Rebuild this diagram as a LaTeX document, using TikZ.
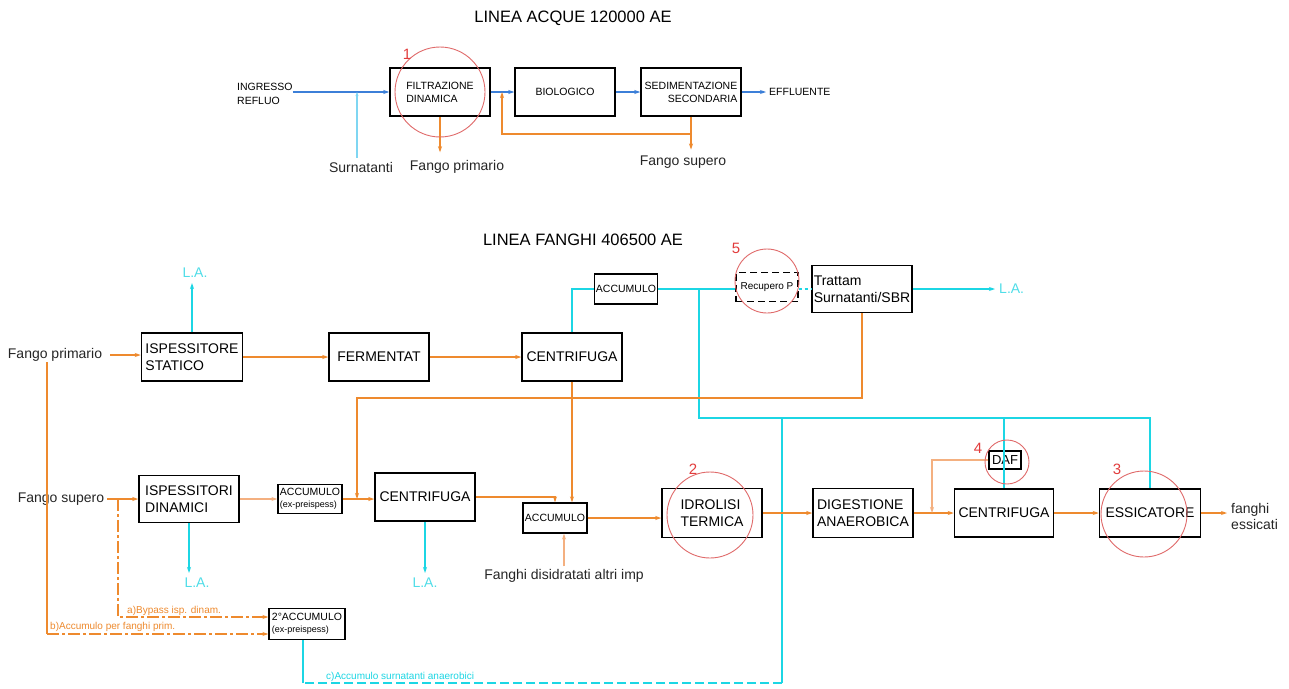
\documentclass[tikz,border=0pt]{standalone}
\usepackage{fontspec}
\setmainfont{Liberation Sans}
\usetikzlibrary{arrows.meta,calc}
\definecolor{flowblue}{HTML}{3C7FD8}
\definecolor{flowcyan}{HTML}{1CD6E4}
\definecolor{surncyan}{HTML}{7FD6F2}
\definecolor{lacyan}{HTML}{4FDDE8}
\definecolor{floworange}{HTML}{EE8A2E}
\definecolor{lightorange}{HTML}{F4B080}
\definecolor{ringred}{HTML}{E06A6A}
\definecolor{numred}{HTML}{E23C3C}
\tikzset{
  sz/.style 2 args={minimum width=#1pt,minimum height=#2pt},
  box/.style={draw=black,line width=1.5pt,rectangle,inner sep=0pt,align=center,font=\fontsize{14}{16.5}\selectfont},
  topbox/.style={box,font=\fontsize{10.5}{13}\selectfont},
  smbox/.style={box,line width=1.3pt,font=\fontsize{10.5}{12}\selectfont},
  lbl/.style={inner sep=0pt,font=\fontsize{14}{16}\selectfont,text=black!85},
  toplbl/.style={inner sep=0pt,font=\fontsize{10.5}{13.5}\selectfont},
  latext/.style={inner sep=0pt,font=\fontsize{14}{16}\selectfont,text=lacyan},
  ttl/.style={inner sep=0pt,font=\fontsize{16.5}{18}\selectfont},
  optlbl/.style={inner sep=0pt,font=\fontsize{10}{12}\selectfont},
  redring/.style={circle,draw=ringred,line width=0.9pt,inner sep=0pt},
  num/.style={inner sep=0pt,text=numred,font=\fontsize{15}{16}\selectfont},
  arr/.style={-{Stealth[length=6pt,width=4pt]}},
  bl/.style={draw=flowblue,line width=1.4pt},
  cy/.style={draw=flowcyan,line width=1.4pt},
  og/.style={draw=floworange,line width=1.4pt},
  lo/.style={draw=lightorange,line width=1.2pt},
  dd/.style={dash pattern=on 12pt off 3pt on 3pt off 3pt},
}
\begin{document}
\begin{tikzpicture}[x=1pt,y=-1pt]
\fill[white] (0,0) rectangle (1289,688);
\path[use as bounding box] (0,0) rectangle (1289,688);

% ---------------- water line ----------------
\node[ttl] (ttlA) at (573,18) {LINEA ACQUE 120000 AE};
\node[topbox,sz={100}{48},align=left] (filt) at (440,92) {FILTRAZIONE\\DINAMICA};
\node[topbox,sz={100}{48}] (bio) at (565,92) {BIOLOGICO};
\node[topbox,sz={100}{48},align=right] (sed) at (691,92) {SEDIMENTAZIONE\\SECONDARIA};
\node[toplbl,align=left,anchor=west] (ingr) at (237,94) {INGRESSO\\REFLUO};
\node[toplbl,anchor=west] (eff) at (769,92) {EFFLUENTE};
\node[lbl] (surn) at (361,167) {Surnatanti};
\node[lbl] (fp1) at (457,167) {Fango primario};
\node[lbl] (fs1) at (683,162) {Fango supero};

\coordinate (jS) at (357,92);
\coordinate (rcB) at (691,134);
\coordinate (rcT) at (502,92);
\draw[bl,arr] (ingr.east |- filt.west) -- (filt.west);
\draw[draw=surncyan,line width=1.1pt,-{Stealth[length=4pt,width=3pt]}] ([yshift=4pt]surn.north -| jS) -- (jS);
\draw[og,arr,shorten >=8pt] (filt.south) -- (filt.south |- fp1.north);
\draw[bl,arr] (filt.east) -- (bio.west);
\draw[bl,arr] (bio.east) -- (sed.west);
\draw[bl,arr,shorten >=3pt] (sed.east) -- (eff.west);
\draw[og,arr,shorten >=6pt] (sed.south) -- (sed.south |- fs1.north);
\draw[og,arr] (rcB) -| (rcT);

% ---------------- sludge line ----------------
\node[ttl] (ttlB) at (583,240) {LINEA FANGHI 406500 AE};
\node[box,sz={101}{48},align=left] (isp1) at (192,357) {ISPESSITORE\\STATICO};
\node[box,sz={100}{48}] (ferm) at (379,357) {FERMENTAT};
\node[box,sz={100}{48}] (cen1) at (572,357) {CENTRIFUGA};
\node[smbox,sz={63}{30}] (acc1) at (626,289) {ACCUMULO};
\node[smbox,sz={62}{29},dash pattern=on 7pt off 4pt,font=\fontsize{10}{12}\selectfont] (recp) at (767,287) {Recupero P};
\node[box,sz={100}{47},align=left] (trat) at (862,289) {Trattam\\Surnatanti/SBR};
\node[latext] (la1) at (195,273) {L.A.};
\node[latext,anchor=west] (la2) at (999,289) {L.A.};
\node[lbl] (fprim) at (55,355) {Fango primario};
\node[lbl] (fsup) at (61,499) {Fango supero};
\node[box,sz={100}{47},align=left] (isp2) at (189,499) {ISPESSITORI\\DINAMICI};
\node[smbox,sz={64}{29},align=left] (acc2) at (310,499) {ACCUMULO\\\fontsize{9}{10}\selectfont(ex-preispess)};
\node[box,sz={100}{48}] (cen2) at (425,497) {CENTRIFUGA};
\node[smbox,sz={64}{30}] (acc3) at (555,518) {ACCUMULO};
\node[latext] (la3) at (197,583) {L.A.};
\node[latext] (la4) at (425,583) {L.A.};
\node[lbl] (fdis) at (564,576) {Fanghi disidratati altri imp};
\node[box,sz={100}{49},align=left] (idro) at (712,513) {IDROLISI\\TERMICA};
\node[box,sz={100}{49},align=left] (dig) at (863,513) {DIGESTIONE\\ANAEROBICA};
\node[box,sz={99}{48}] (cen3) at (1004,513) {CENTRIFUGA};
\node[box,sz={32}{18},line width=1.3pt,font=\fontsize{13}{14}\selectfont] (daf) at (1005,460) {DAF};
\node[box,sz={101}{48}] (ess) at (1150,513) {ESSICATORE};
\node[lbl,align=left,anchor=west] (fess) at (1231,516) {fanghi\\essicati};
\node[smbox,sz={76}{31},align=left] (acc4) at (307,624) {2°ACCUMULO\\\fontsize{9}{10}\selectfont(ex-preispess)};
\node[optlbl,text=floworange,anchor=west] (opta) at (127,611) {a)Bypass isp. dinam.};
\node[optlbl,text=floworange,anchor=west] (optb) at (50,627) {b)Accumulo per fanghi prim.};
\node[optlbl,text=flowcyan,anchor=west] (optc) at (326,677) {c)Accumulo surnatanti anaerobici};

% junctions
\coordinate (j1) at (699,289);
\coordinate (jc) at (699,418);
\coordinate (jd) at (782,418);
\coordinate (jdb) at (782,683);
\coordinate (jcb) at (303,683);
\coordinate (jr) at (357,398);
\coordinate (m1) at (357,499);
\coordinate (ja) at (118,499);
\coordinate (jb) at (47,362);
\coordinate (bend) at ([yshift=-10pt]acc4.west);
\coordinate (bcorner) at (jb |- bend);
\coordinate (jdaf) at (932,513);

% clarified water (cyan)
\draw[cy,arr,shorten >=5pt] (isp1.north) -- (isp1.north |- la1.south);
\draw[cy] (cen1.north) |- (acc1.west);
\draw[cy] (acc1.east) -- (acc1.east -| recp.west);
\draw[cy,dashed] (recp.east |- acc1.east) -- (acc1.east -| trat.west);
\draw[cy,arr,shorten >=4pt] (trat.east) -- (la2.west);
\draw[cy] (j1) -- (jc) -| (ess.north);
\draw[cy] (cen3.north |- jc) -- (cen3.north);
\draw[cy] (jd) -- (jdb);
\draw[cy,dash pattern=on 9pt off 4pt] (jdb) -- (jcb);
\draw[cy] (jcb) -- (jcb |- acc4.south);
\draw[cy,arr,shorten >=5pt] (isp2.south) -- (isp2.south |- la3.north);
\draw[cy,arr,shorten >=5pt] (cen2.south) -- (cen2.south |- la4.north);

% sludge (orange)
\draw[og,arr,shorten <=8pt] (fprim.east) -- (fprim.east -| isp1.west);
\draw[og,arr] (isp1.east) -- (ferm.west);
\draw[og,arr] (ferm.east) -- (cen1.west);
\draw[og,arr] (trat.south) |- (jr) -- (m1);
\draw[og,arr] (cen1.south) -- (cen1.south |- acc3.north);
\draw[og,arr,shorten <=3pt] (fsup.east) -- (fsup.east -| isp2.west);
\draw[og,dd,arr] (ja) |- ([yshift=7pt]acc4.west);
\draw[og] (jb) -- (bcorner);
\draw[og,dd,arr] (bcorner) -- (bend);
\draw[lo,arr] (isp2.east) -- (isp2.east -| acc2.west);
\draw[og,arr] (acc2.east) -- (acc2.east -| cen2.west);
\draw[og,arr] (cen2.east) -| (acc3.north);
\draw[lo,arr,shorten <=3pt] (fdis.north) -- (fdis.north |- acc3.south);
\draw[og,arr] (acc3.east) -- (acc3.east -| idro.west);
\draw[og,arr] (idro.east) -- (dig.west);
\draw[og,arr] (dig.east) -- (cen3.west);
\draw[og,arr] (cen3.east) -- (ess.west);
\draw[og,arr,shorten >=4pt] (ess.east) -- (ess.east -| fess.west);
\draw[lo,arr] (daf.west) -| (jdaf);

% upgrade markers
\node[redring,minimum size=90pt] (r1) at (440,92) {};
\node[num] (n1) at (407,54) {1};
\node[redring,minimum size=86pt] (r2) at (710,515) {};
\node[num] (n2) at (693,469) {2};
\node[redring,minimum size=86pt] (r3) at (1144,514) {};
\node[num] (n3) at (1117,469) {3};
\node[redring,minimum size=44pt] (r4) at (1007,462) {};
\node[num] (n4) at (978,448) {4};
\node[redring,minimum size=64pt] (r5) at (767,281) {};
\node[num] (n5) at (736,248) {5};
\end{tikzpicture}
\end{document}
